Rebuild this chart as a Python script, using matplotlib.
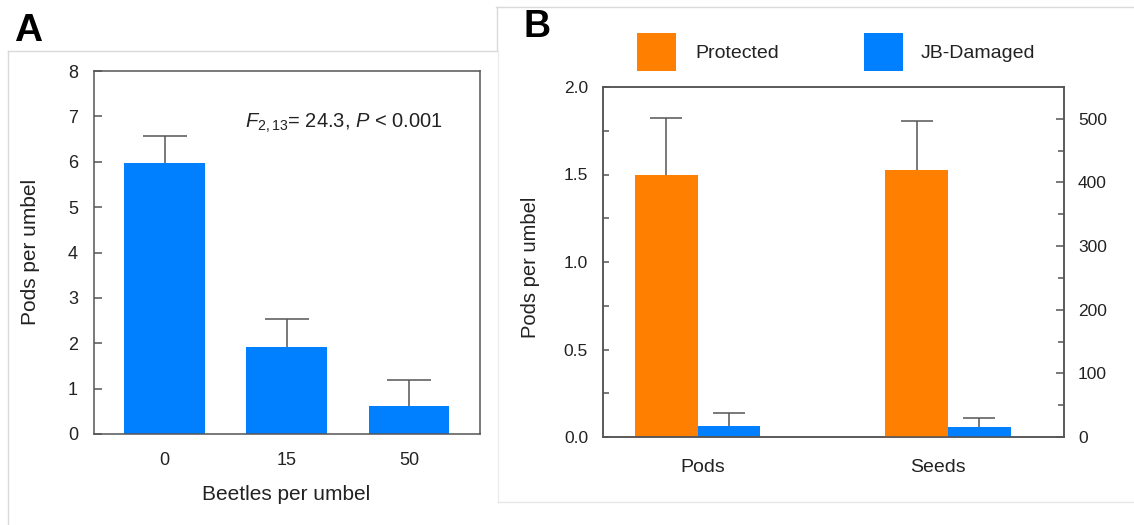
import numpy as np
import matplotlib
matplotlib.use("Agg")
import matplotlib.pyplot as plt
from matplotlib.lines import Line2D
from matplotlib.patches import Rectangle
from matplotlib.ticker import MultipleLocator

# ---- data ----
beetle_levels = ["0", "15", "50"]
pods_mean_a = [5.98, 1.92, 0.62]
pods_se_a = [0.59, 0.61, 0.57]

groups_b = ["Pods", "Seeds"]
series_b = ["Protected", "JB-Damaged"]
pods_mean_b = [1.50, 0.065]     # pods per umbel (left axis)
pods_se_b = [0.325, 0.07]
seeds_mean_b = [419, 15]        # seeds per umbel (right axis)
seeds_se_b = [77, 14.5]

# ---- style ----
plt.rcParams["font.family"] = ["Liberation Sans", "DejaVu Sans"]
plt.rcParams["mathtext.fontset"] = "custom"
plt.rcParams["mathtext.rm"] = "Liberation Sans"
plt.rcParams["mathtext.it"] = "Liberation Sans:italic"

BLUE = "#007FFF"
ORANGE = "#FF7F00"
SPINE = "#555555"
TEXT = "#222222"
FRAME = "#dadada"

W, H = 1134, 525
fig = plt.figure(figsize=(W / 100, H / 100), dpi=100)


def fx(px):
    return px / W


def fy(py):
    return 1 - py / H


def style_box(ax):
    for s in ax.spines.values():
        s.set_color(SPINE)
        s.set_linewidth(1.1)


def one_sided_errorbar(ax, x, y, err, capsize):
    eb = ax.errorbar(x, y, yerr=[np.zeros(len(err)), err], fmt="none",
                     ecolor=SPINE, elinewidth=1.1, capsize=capsize,
                     capthick=1.1, zorder=3)
    for cl in eb[1]:
        if np.allclose(cl.get_ydata(), y):
            cl.set_visible(False)


# ---- panel frames ----
for xs, ys, c in [
    ([8, 496], [50.5, 50.5], FRAME),
    ([8, 8], [50.5, 525], FRAME),
    ([496, 1134], [7, 7], FRAME),
    ([496.5, 496.5], [7, 50.5], FRAME),
    ([497.5, 497.5], [50.5, 502], "#ececec"),
    ([497.5, 1134], [502, 502], "#e6e6e6"),
]:
    fig.add_artist(Line2D([fx(v) for v in xs], [fy(v) for v in ys],
                          color=c, lw=1.0))

# ---- panel A ----
axA = fig.add_axes([fx(94), fy(434), (480 - 94) / W, (434 - 71) / H])
xa = np.arange(len(beetle_levels))
axA.bar(xa, pods_mean_a, width=0.66, color=BLUE, zorder=2)
one_sided_errorbar(axA, xa, np.array(pods_mean_a), np.array(pods_se_a), 15.5)
axA.set_xlim(-0.577, 2.58)
axA.set_ylim(0, 8)
axA.yaxis.set_major_locator(MultipleLocator(1))
axA.set_xticks(xa)
axA.set_xticklabels(beetle_levels)
axA.tick_params(axis="y", direction="in", length=5.5, width=1.1,
                color=SPINE, labelsize=13, labelcolor=TEXT, pad=11.5)
axA.tick_params(axis="x", length=0, labelsize=13, labelcolor=TEXT, pad=13)
style_box(axA)
axA.text(0.391, 0.857, r"$F_{2,13}$= 24.3, $P$ < 0.001",
         transform=axA.transAxes, fontsize=14.5, color=TEXT,
         ha="left", va="center")
fig.text(fx(31), fy(252), "Pods per umbel", rotation=90, fontsize=15,
         color=TEXT, ha="center", va="center")
fig.text(fx(286), fy(495), "Beetles per umbel", fontsize=15,
         color=TEXT, ha="center", va="center")
fig.text(fx(14), fy(41), "A", fontsize=28, fontweight="bold",
         color="black", ha="left", va="baseline")

# ---- panel B ----
axB = fig.add_axes([fx(602.6), fy(437), (1063.7 - 602.6) / W, (437 - 87) / H])
axB2 = axB.twinx()
wb = 0.25
xg = np.arange(len(groups_b))

# pods on the left axis
axB.bar(xg[0] - wb / 2, pods_mean_b[0], width=wb, color=ORANGE, zorder=2)
axB.bar(xg[0] + wb / 2, pods_mean_b[1], width=wb, color=BLUE, zorder=2)
one_sided_errorbar(axB, np.array([xg[0] - wb / 2, xg[0] + wb / 2]),
                   np.array(pods_mean_b), np.array(pods_se_b), 11.2)

# seeds on the right axis
axB2.bar(xg[1] - wb / 2, seeds_mean_b[0], width=wb, color=ORANGE, zorder=2)
axB2.bar(xg[1] + wb / 2, seeds_mean_b[1], width=wb, color=BLUE, zorder=2)
one_sided_errorbar(axB2, np.array([xg[1] - wb / 2, xg[1] + wb / 2]),
                   np.array(seeds_mean_b), np.array(seeds_se_b), 11.2)

axB.set_xlim(-0.38, 1.462)
axB.set_ylim(0, 2.0)
axB2.set_ylim(0, 550)
axB.yaxis.set_major_locator(MultipleLocator(0.5))
axB.yaxis.set_minor_locator(MultipleLocator(0.25))
axB.yaxis.set_major_formatter(matplotlib.ticker.FormatStrFormatter("%.1f"))
axB2.yaxis.set_major_locator(matplotlib.ticker.FixedLocator(np.arange(0, 501, 100)))
axB2.yaxis.set_minor_locator(matplotlib.ticker.FixedLocator(np.arange(50, 501, 100)))

axB.set_xticks([0.021, 0.958])
axB.set_xticklabels(groups_b)
axB.tick_params(axis="x", length=0, labelsize=14, labelcolor=TEXT, pad=16)
axB.tick_params(axis="y", which="both", direction="in", length=4.5,
                width=1.1, color=SPINE, labelsize=12.5, labelcolor=TEXT,
                pad=10.5)
axB2.tick_params(axis="y", which="major", direction="in", length=6,
                 width=1.1, color=SPINE, labelsize=12.5, labelcolor=TEXT,
                 pad=10.3)
axB2.tick_params(axis="y", which="minor", direction="in", length=4,
                 width=1.1, color=SPINE)
style_box(axB)
style_box(axB2)

fig.text(fx(531), fy(267.5), "Pods per umbel", rotation=90, fontsize=14.5,
         color=TEXT, ha="center", va="center")
fig.text(fx(524), fy(37), "B", fontsize=27, fontweight="bold",
         color="black", ha="left", va="baseline")

# legend
for (x0, x1, tx), c, lab in zip([(637.4, 675.7, 695.4), (864.4, 902.7, 920.4)],
                                [ORANGE, BLUE], series_b):
    fig.add_artist(Rectangle((fx(x0), fy(70.7)), (x1 - x0) / W,
                             (70.7 - 33.3) / H, color=c, lw=0))
    fig.text(fx(tx), fy(53.5), lab, fontsize=14, color=TEXT,
             ha="left", va="center")

fig.savefig("out.png", dpi=100, facecolor="white")
